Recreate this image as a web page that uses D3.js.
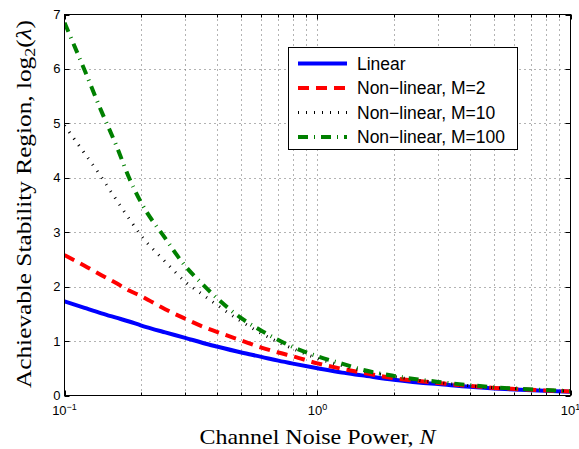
<!DOCTYPE html>
<html>
<head>
<meta charset="utf-8">
<script src="https://cdn.jsdelivr.net/npm/d3@7"></script>
<style>
    body { margin: 0; background: #fff; }
    svg { display: block; }
</style>
</head>
<body>
<div id="chart"></div>
<script>
// noise power samples (x axis, log scale)
var noise = [0.1, 0.12, 0.14, 0.16, 0.18, 0.2, 0.25, 0.3, 0.35, 0.4, 0.5, 0.6, 0.7, 0.8,
             1, 1.25, 1.5, 2, 2.5, 3, 4, 5, 6, 8, 10];

// achievable stability region, log2(lambda), one array per curve
var linear = [1.73, 1.61, 1.51, 1.43, 1.36, 1.29, 1.16, 1.06, 0.97, 0.90, 0.79, 0.71, 0.64, 0.585,
              0.50, 0.42, 0.37, 0.29, 0.24, 0.21, 0.16, 0.13, 0.11, 0.085, 0.069];
var nonlinM2 = [2.58, 2.385, 2.21, 2.065, 1.93, 1.83, 1.585, 1.41, 1.27, 1.17, 1.01, 0.88, 0.79, 0.72,
                0.59, 0.49, 0.42, 0.32, 0.265, 0.23, 0.175, 0.14, 0.12, 0.092, 0.075];
var nonlinM10 = [4.96, 4.45, 4.01, 3.60, 3.25, 2.95, 2.46, 2.09, 1.86, 1.665, 1.36, 1.14, 0.98, 0.86,
                 0.68, 0.55, 0.46, 0.35, 0.28, 0.24, 0.18, 0.145, 0.125, 0.098, 0.08];
var nonlinM100 = [6.85, 5.98, 5.22, 4.60, 4.00, 3.56, 2.89, 2.38, 2.05, 1.79, 1.42, 1.19, 1.02, 0.89,
                  0.72, 0.585, 0.475, 0.36, 0.295, 0.25, 0.19, 0.15, 0.13, 0.10, 0.082];

var seriesNames = ['Linear', 'Non\u2212linear, M=2', 'Non\u2212linear, M=10', 'Non\u2212linear, M=100'];

// axis ticks
var yTicks = [0, 1, 2, 3, 4, 5, 6, 7];
var xMajor = [0.1, 1, 10];
var xMajorExp = ['\u22121', '0', '1'];
var xMinor = [0.2, 0.3, 0.4, 0.5, 0.6, 0.7, 0.8, 0.9, 2, 3, 4, 5, 6, 7, 8, 9];

var W = 579, H = 449;
// plot box (note: "top" is reserved on window, so prefix everything)
var pLeft = 64.5, pRight = 570.5, pTop = 14.5, pBottom = 395.5;

var x = d3.scaleLog().domain([0.1, 10]).range([pLeft, pRight]);
var y = d3.scaleLinear().domain([0, 7]).range([pBottom, pTop]);

var svg = d3.select('#chart').append('svg')
            .attr('width', W)
            .attr('height', H);

svg.append('defs').append('clipPath').attr('id', 'plotclip')
    .append('rect')
    .attr('x', pLeft).attr('y', pTop)
    .attr('width', pRight - pLeft).attr('height', pBottom - pTop);

// dotted grid
var grid = svg.append('g')
    .attr('stroke', '#666')
    .attr('stroke-width', 1)
    .attr('stroke-dasharray', '1,4');
yTicks.slice(1, -1).forEach(function(v) {
    grid.append('line')
        .attr('x1', pLeft).attr('x2', pRight)
        .attr('y1', Math.round(y(v)) + 0.5).attr('y2', Math.round(y(v)) + 0.5);
});
xMinor.concat([1]).forEach(function(v) {
    grid.append('line')
        .attr('x1', Math.round(x(v)) + 0.5).attr('x2', Math.round(x(v)) + 0.5)
        .attr('y1', pTop).attr('y2', pBottom);
});

// curves
var line = d3.line()
    .x(function(d) { return x(d[0]); })
    .y(function(d) { return y(d[1]); })
    .curve(d3.curveMonotoneX);

var curves = [
    { values: linear,     color: '#0000ff', width: 4, dash: null },
    { values: nonlinM2,   color: '#ff0000', width: 4, dash: '11,7' },
    { values: nonlinM10,  color: '#000000', width: 3, dash: '1,7' },
    { values: nonlinM100, color: '#008000', width: 4, dash: '10,6,1,6' }
];

var plot = svg.append('g').attr('clip-path', 'url(#plotclip)');
curves.forEach(function(c) {
    var pts = noise.map(function(n, i) { return [n, c.values[i]]; });
    var p = plot.append('path')
        .datum(pts)
        .attr('d', line)
        .attr('fill', 'none')
        .attr('stroke', c.color)
        .attr('stroke-width', c.width);
    if (c.dash)
        p.attr('stroke-dasharray', c.dash);
});

// axes box and inward ticks
var ax = svg.append('g').attr('stroke', '#000').attr('stroke-width', 1);
ax.append('rect')
    .attr('x', pLeft).attr('y', pTop)
    .attr('width', pRight - pLeft).attr('height', pBottom - pTop)
    .attr('fill', 'none');
yTicks.forEach(function(v) {
    var yy = Math.round(y(v)) + 0.5;
    ax.append('line').attr('x1', pLeft).attr('x2', pLeft + 5).attr('y1', yy).attr('y2', yy);
    ax.append('line').attr('x1', pRight).attr('x2', pRight - 5).attr('y1', yy).attr('y2', yy);
});
xMajor.forEach(function(v) {
    var xx = Math.round(x(v)) + 0.5;
    ax.append('line').attr('x1', xx).attr('x2', xx).attr('y1', pBottom).attr('y2', pBottom - 5);
    ax.append('line').attr('x1', xx).attr('x2', xx).attr('y1', pTop).attr('y2', pTop + 5);
});
xMinor.forEach(function(v) {
    var xx = Math.round(x(v)) + 0.5;
    ax.append('line').attr('x1', xx).attr('x2', xx).attr('y1', pBottom).attr('y2', pBottom - 3);
    ax.append('line').attr('x1', xx).attr('x2', xx).attr('y1', pTop).attr('y2', pTop + 3);
});

// tick labels
var sans = '"Liberation Sans", Arial, Helvetica, sans-serif';
var serif = '"Liberation Serif", "Times New Roman", serif';

svg.append('g').selectAll('text')
    .data(yTicks)
    .enter().append('text')
    .attr('x', pLeft - 4)
    .attr('y', function(d) { return y(d) + 4.5; })
    .attr('text-anchor', 'end')
    .style('font-family', sans)
    .style('font-size', '13px')
    .text(function(d) { return d; });

xMajor.forEach(function(v, i) {
    var t = svg.append('text')
        .attr('x', x(v))
        .attr('y', 415)
        .attr('text-anchor', 'middle')
        .style('font-family', sans)
        .style('font-size', '13px');
    t.append('tspan').text('10');
    t.append('tspan').attr('dy', -5).style('font-size', '9px').text(xMajorExp[i]);
});

// axis labels
var xl = svg.append('text')
    .attr('x', (pLeft + pRight) / 2)
    .attr('y', 444)
    .attr('text-anchor', 'middle')
    .attr('textLength', 236)
    .attr('lengthAdjust', 'spacingAndGlyphs')
    .style('font-family', serif)
    .style('font-size', '21px');
xl.append('tspan').text('Channel Noise Power, ');
xl.append('tspan').style('font-style', 'italic').text('N');

var yl = svg.append('text')
    .attr('transform', 'translate(31,204) rotate(-90)')
    .attr('text-anchor', 'middle')
    .attr('textLength', 368)
    .attr('lengthAdjust', 'spacingAndGlyphs')
    .style('font-family', serif)
    .style('font-size', '21px');
yl.append('tspan').text('Achievable Stability Region, log');
yl.append('tspan').attr('dy', 4).style('font-size', '15px').text('2');
yl.append('tspan').attr('dy', -4).text('(');
yl.append('tspan').style('font-style', 'italic').text('\u03bb');
yl.append('tspan').text(')');

// legend
var lg = svg.append('g');
lg.append('rect')
    .attr('x', 288.5).attr('y', 47.5)
    .attr('width', 229).attr('height', 102)
    .attr('fill', '#fff')
    .attr('stroke', '#000')
    .attr('stroke-width', 1);
curves.forEach(function(c, i) {
    var ly = 63.5 + i * 24.5;
    var l = lg.append('line')
        .attr('x1', 298).attr('x2', 347)
        .attr('y1', ly).attr('y2', ly)
        .attr('stroke', c.color)
        .attr('stroke-width', c.width);
    if (c.dash)
        l.attr('stroke-dasharray', c.dash);
    lg.append('text')
        .attr('x', 357)
        .attr('y', ly + 6)
        .style('font-family', sans)
        .style('font-size', '17.5px')
        .text(seriesNames[i]);
});
</script>
</body>
</html>
